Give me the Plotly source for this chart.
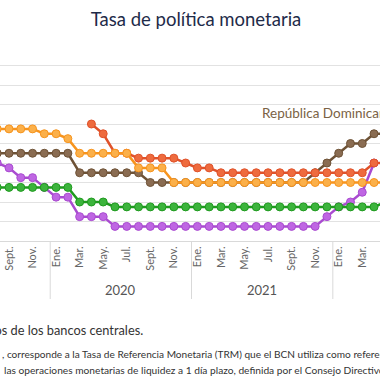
import plotly.graph_objects as go

# ---------------- data ----------------
months = ["2019-08", "2019-09", "2019-10", "2019-11", "2019-12",
          "2020-01", "2020-02", "2020-03", "2020-04", "2020-05", "2020-06",
          "2020-07", "2020-08", "2020-09", "2020-10", "2020-11", "2020-12",
          "2021-01", "2021-02", "2021-03", "2021-04", "2021-05", "2021-06",
          "2021-07", "2021-08", "2021-09", "2021-10", "2021-11", "2021-12",
          "2022-01", "2022-02", "2022-03", "2022-04", "2022-05"]

costa_rica = [4.0, 3.75, 3.25, 3.25, 2.75, 2.25, 2.25, 1.25, 1.25, 1.25,
              0.75, 0.75, 0.75, 0.75, 0.75, 0.75, 0.75, 0.75, 0.75, 0.75,
              0.75, 0.75, 0.75, 0.75, 0.75, 0.75, 0.75, 0.75, 1.25, 1.75,
              2.0, 2.5, 4.0, None]
rep_dominicana = [4.5, 4.5, 4.5, 4.5, 4.5, 4.5, 4.5, 3.5, 3.5, 3.5, 3.5,
                  3.5, 3.5, 3.0, 3.0, 3.0, 3.0, 3.0, 3.0, 3.0, 3.0, 3.0,
                  3.0, 3.0, 3.0, 3.0, 3.0, 3.5, 4.0, 4.5, 5.0, 5.0, 5.5, 5.5]
nicaragua = [None, None, None, None, None, None, None, None, 6.0, 5.5, 4.5,
             4.5, 4.25, 4.25, 4.25, 4.25, 4.0, 3.75, 3.75, 3.5, 3.5, 3.5,
             3.5, 3.5, 3.5, 3.5, 3.5, 3.5, 3.5, 3.5, 3.5, 3.5, 4.0, 4.0]
honduras = [5.75, 5.75, 5.75, 5.75, 5.5, 5.5, 5.25, 4.5, 4.5, 4.5, 4.5, 4.5,
            3.75, 3.75, 3.75, 3.0, 3.0, 3.0, 3.0, 3.0, 3.0, 3.0, 3.0, 3.0,
            3.0, 3.0, 3.0, 3.0, 3.0, 3.0, 3.0, 3.0, 3.0, 3.0]
guatemala = [2.75, 2.75, 2.75, 2.75, 2.75, 2.75, 2.75, 2.0, 2.0, 2.0, 1.75,
             1.75, 1.75, 1.75, 1.75, 1.75, 1.75, 1.75, 1.75, 1.75, 1.75,
             1.75, 1.75, 1.75, 1.75, 1.75, 1.75, 1.75, 1.75, 1.75, 1.75,
             1.75, 1.75, 2.0]

tick_months = ["2019-09", "2019-11", "2020-01", "2020-03", "2020-05",
               "2020-07", "2020-09", "2020-11", "2021-01", "2021-03",
               "2021-05", "2021-07", "2021-09", "2021-11", "2022-01",
               "2022-03"]
tick_labels = ["Sept.", "Nov.", "Ene.", "Mar.", "May.", "Jul.", "Sept.",
               "Nov.", "Ene.", "Mar.", "May.", "Jul.", "Sept.", "Nov.",
               "Ene.", "Mar."]
years = ["2020", "2021"]

# ---------------- figure ----------------
FONT = "Lato"
W, H = 380, 380
T, B = 46, 139
PH = H - T - B


def py(px):
    """pixel y (from top) -> paper y"""
    return (H - B - px) / PH


series = [
    (costa_rica, "#a94bd0", "#bf66e3"),
    (rep_dominicana, "#6e5236", "#8a6c52"),
    (nicaragua, "#e0522a", "#ee6b3e"),
    (honduras, "#f7941d", "#fbb04a"),
    (guatemala, "#1f9a1f", "#3cb43c"),
]

fig = go.Figure()
for vals, lc, mc in series:
    fig.add_trace(go.Scatter(
        x=months, y=vals, mode="lines+markers",
        line=dict(color=lc, width=2.5),
        marker=dict(size=8, color=mc, line=dict(color=lc, width=1)),
        showlegend=False, hoverinfo="skip",
    ))

shapes = []
for sep in [4.5, 16.5, 28.5]:
    shapes.append(dict(type="line", xref="x", yref="paper", x0=sep, x1=sep,
                       y0=0, y1=py(299), line=dict(color="#d9d9d9", width=1)))

annotations = []
for i, yr in enumerate(years):
    annotations.append(dict(x=10.5 + 12 * i, y=py(290), xref="x", yref="paper",
                            text=yr, showarrow=False, xanchor="center",
                            yanchor="middle",
                            font=dict(family=FONT, size=13, color="#555555")))

annotations.append(dict(x=22.3, y=6.58, xref="x", yref="y",
                        text="República Dominicana", showarrow=False,
                        xanchor="left", yanchor="middle",
                        font=dict(family=FONT, size=13.5, color="#7a6244")))

annotations.append(dict(x=145 / W, y=py(330), xref="paper", yref="paper",
                        text="Fuente: elaboración propia con base en datos de los bancos centrales.",
                        showarrow=False, xanchor="right", yanchor="middle",
                        font=dict(family=FONT, size=12.8, color="#333333")))
annotations.append(dict(x=0 / W, y=py(354), xref="paper", yref="paper",
                        text=", corresponde a la Tasa de Referencia Monetaria (TRM) que el BCN utiliza como referencia para",
                        showarrow=False, xanchor="left", yanchor="middle",
                        font=dict(family=FONT, size=10.1, color="#333333")))
annotations.append(dict(x=2 / W, y=py(370), xref="paper", yref="paper",
                        text="las operaciones monetarias de liquidez a 1 día plazo, definida por el Consejo Directivo del BCN.",
                        showarrow=False, xanchor="left", yanchor="middle",
                        font=dict(family=FONT, size=10.2, color="#333333")))

fig.update_layout(
    width=W, height=H,
    margin=dict(l=0, r=0, t=T, b=B, pad=0),
    paper_bgcolor="white", plot_bgcolor="white",
    title=dict(text="Tasa de política monetaria", x=196 / W, xanchor="center",
               y=1 - 20 / H, yanchor="middle", yref="container",
               font=dict(family=FONT, size=18.5, color="#1e2b49")),
    xaxis=dict(type="category", categoryorder="array", categoryarray=months,
               range=[0.236, 32.507], tickmode="array", tickvals=tick_months,
               ticktext=tick_labels, tickangle=-90, showgrid=False,
               showline=True, linecolor="#d9d9d9", linewidth=1, ticks="",
               tickfont=dict(family=FONT, size=11, color="#666666")),
    yaxis=dict(range=[0, 10], dtick=1, showgrid=True, gridcolor="#e2e2e2",
               gridwidth=1, showticklabels=False, zeroline=False, ticks=""),
    shapes=shapes, annotations=annotations,
    font=dict(family=FONT),
)

fig.write_html("out.html",
               config={"displayModeBar": False, "staticPlot": True},
               post_script="document.body.style.margin='0';"
                           "document.documentElement.style.overflow='hidden';")
